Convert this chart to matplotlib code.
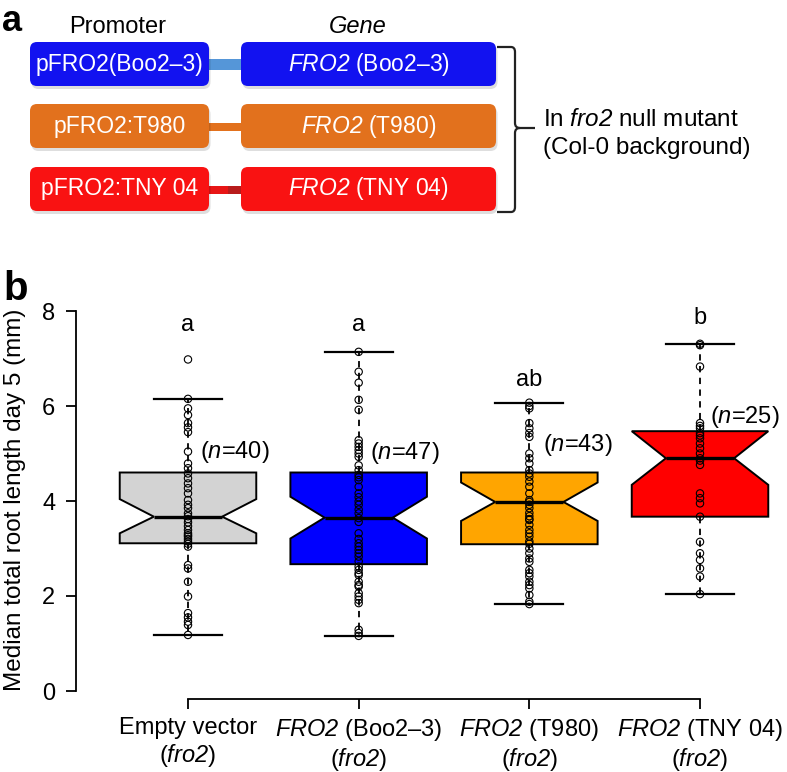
import numpy as np
import matplotlib
matplotlib.use("Agg")
import matplotlib.pyplot as plt
from matplotlib.patches import FancyBboxPatch
from matplotlib.path import Path
from matplotlib.patches import PathPatch

plt.rcParams['font.family'] = ['Liberation Sans', 'DejaVu Sans']
# math mode is used only for italic fragments (gene / variable names)
plt.rcParams['mathtext.fontset'] = 'custom'
plt.rcParams['mathtext.rm'] = 'Liberation Sans:italic'
plt.rcParams['mathtext.it'] = 'Liberation Sans:italic'
plt.rcParams['mathtext.default'] = 'it'

# ---------------- data ----------------
groups = ["Empty vector\n($fro2$)",
          "$FRO2$ (Boo2–3)\n($fro2$)",
          "$FRO2$ (T980)\n($fro2$)",
          "$FRO2$ (TNY 04)\n($fro2$)"]
box_colors = ["#d3d3d3", "#0000ff", "#ffa500", "#ff0000"]

med = [3.67, 3.65, 3.98, 4.90]
q1 = [3.11, 2.67, 3.09, 3.67]
q3 = [4.60, 4.60, 4.60, 5.47]
whislo = [1.18, 1.16, 1.83, 2.04]
whishi = [6.15, 7.14, 6.07, 7.31]
notch_lo = [3.32, 3.21, 3.58, 4.34]
notch_hi = [4.04, 4.09, 4.39, 5.47]

pts_empty = [6.98, 6.15, 5.95, 5.81, 5.64, 5.55, 5.45, 5.04, 4.79, 4.69,
             4.58, 4.48, 4.37, 4.27, 4.16, 4.02, 3.92, 3.85, 3.74, 3.68,
             3.62, 3.55, 3.47, 3.39, 3.32, 3.28, 3.25, 3.20, 3.15, 3.10,
             3.04, 2.65, 2.58, 2.30, 1.99, 1.64, 1.55, 1.46, 1.39, 1.18]
pts_boo = [7.14, 6.72, 6.49, 6.13, 5.92, 5.28, 5.21, 5.14, 5.07, 5.00,
           4.93, 4.75, 4.65, 4.55, 4.50, 4.44, 4.30, 4.16, 4.08, 3.99,
           3.92, 3.82, 3.74, 3.64, 3.56, 3.32, 3.20, 3.11, 3.04, 2.97,
           2.90, 2.83, 2.73, 2.62, 2.55, 2.48, 2.44, 2.30, 2.23, 2.20,
           2.06, 1.99, 1.92, 1.85, 1.29, 1.22, 1.16]
pts_t980 = [6.07, 6.00, 5.95, 5.64, 5.53, 5.43, 5.35, 5.00, 4.90, 4.79,
            4.65, 4.58, 4.51, 4.41, 4.30, 4.16, 4.02, 3.98, 3.92, 3.85,
            3.75, 3.68, 3.62, 3.60, 3.50, 3.39, 3.32, 3.25, 3.15, 3.10,
            3.00, 2.90, 2.79, 2.72, 2.55, 2.48, 2.41, 2.30, 2.23, 2.16,
            2.02, 1.88, 1.83]
pts_tny = [7.31, 7.28, 6.83, 5.64, 5.58, 5.53, 5.43, 5.38, 5.32, 5.21,
           5.11, 5.00, 4.90, 4.85, 4.76, 4.16, 4.06, 3.95, 3.67, 3.14,
           2.90, 2.76, 2.58, 2.41, 2.04]
points = [pts_empty, pts_boo, pts_t980, pts_tny]

sig_letters = ["a", "a", "ab", "b"]
y_ticks = [0, 2, 4, 6, 8]

promoters = ["pFRO2(Boo2–3)", "pFRO2:T980", "pFRO2:TNY 04"]
genes = ["$FRO2$ (Boo2–3)", "$FRO2$ (T980)", "$FRO2$ (TNY 04)"]
construct_colors = ["#1212f0", "#e2711d", "#f91212"]
link_colors = ["#5596d8", "#e2711d", "#e81515"]

# ---------------- figure ----------------
W, H = 787, 772
fig = plt.figure(figsize=(W / 100, H / 100), dpi=100)

# panel a (pixel-coordinate overlay)
axa = fig.add_axes([0, 0, 1, 1])
axa.set_xlim(0, W)
axa.set_ylim(H, 0)
axa.axis('off')

axa.text(2, 31, "a", fontsize=26, fontweight='bold', ha='left', va='baseline')
axa.text(118, 33, "Promoter", fontsize=17, ha='center', va='baseline')
axa.text(358, 33, "Gene", fontsize=17, style='italic', ha='center', va='baseline')

row_top = [42, 104, 167]
row_h = 44
link_w = [11, 8, 8]
for i in range(3):
    yt = row_top[i]
    yc = yt + row_h / 2
    ly = yc + 1 if i else yc
    axa.plot([205, 245], [ly, ly], color=link_colors[i], lw=link_w[i] * 0.72,
             solid_capstyle='butt', zorder=1)
    if i == 2:
        axa.plot([228, 245], [ly, ly], color="#b81c1c",
                 lw=link_w[i] * 0.72, solid_capstyle='butt', zorder=1)
    for (x0, x1) in [(30, 209), (241, 496)]:
        shadow = FancyBboxPatch((x0 + 1.5, yt + 3), x1 - x0, row_h,
                                boxstyle="round,pad=0,rounding_size=7",
                                fc="black", ec="none", alpha=0.13, zorder=2)
        axa.add_patch(shadow)
        box = FancyBboxPatch((x0, yt), x1 - x0, row_h,
                             boxstyle="round,pad=0,rounding_size=7",
                             fc=construct_colors[i], ec="none", zorder=3)
        axa.add_patch(box)
    axa.text(119.5, yc, promoters[i], color='white', fontsize=16.5,
             ha='center', va='center', zorder=4)
    axa.text(368.5, yc, genes[i], color='white', fontsize=16.5,
             ha='center', va='center', zorder=4)

# curly bracket
verts = [(497, 47), (511, 47), (515, 47), (515, 52), (515, 123), (515, 128),
         (520, 128), (535, 128), (520, 128), (515, 128), (515, 133),
         (515, 207), (515, 212), (511, 212), (497, 212)]
codes = [Path.MOVETO, Path.LINETO, Path.CURVE3, Path.CURVE3, Path.LINETO,
         Path.CURVE3, Path.CURVE3, Path.LINETO, Path.MOVETO, Path.CURVE3,
         Path.CURVE3, Path.LINETO, Path.CURVE3, Path.CURVE3, Path.LINETO]
axa.add_patch(PathPatch(Path(verts, codes), fc='none', ec='#222222', lw=1.6))
axa.text(543, 126, "In $fro2$ null mutant", fontsize=17.5,
         ha='left', va='baseline')
axa.text(543, 154, "(Col-0 background)", fontsize=17.5, ha='left', va='baseline')

axa.text(3, 300, "b", fontsize=29, fontweight='bold', ha='left', va='baseline')

# panel b
left_px, right_px, bot_px, top_px = 76, 787, 699, 296
ax = fig.add_axes([left_px / W, 1 - bot_px / H,
                   (right_px - left_px) / W, (bot_px - top_px) / H])
ax.set_facecolor('none')

stats = []
for i in range(4):
    stats.append(dict(med=med[i], q1=q1[i], q3=q3[i], whislo=whislo[i],
                      whishi=whishi[i], cilo=notch_lo[i], cihi=notch_hi[i],
                      fliers=[]))
positions = np.arange(1, 5)
bp = ax.bxp(stats, positions=positions, widths=0.8, shownotches=True,
            patch_artist=True, showfliers=False, capwidths=0.4,
            boxprops=dict(edgecolor='black', linewidth=1.4),
            medianprops=dict(color='black', linewidth=2.4),
            whiskerprops=dict(color='black', linewidth=1.3, linestyle=(0, (3.5, 3))),
            capprops=dict(color='black', linewidth=1.6))
for patch, c in zip(bp['boxes'], box_colors):
    patch.set_facecolor(c)
for i, vals in enumerate(points):
    ax.scatter(np.full(len(vals), positions[i]), vals, s=28,
               facecolors='none', edgecolors='black', linewidths=0.8, zorder=5)

# significance letters
sig_y = [7.58, 7.58, 6.42, 7.73]
for i in range(4):
    ax.text(positions[i], sig_y[i], sig_letters[i], fontsize=17,
            ha='center', va='baseline')
# n labels
n_x = [1.07, 2.067, 3.08, 4.06]
n_y = [5.04, 5.0, 5.18, 5.77]
for i in range(4):
    ax.text(n_x[i], n_y[i], "($n$=%d)" % len(points[i]),
            fontsize=17, ha='left', va='center')

ax.set_xlim(1 - (188 - 76) / 170.67, 1 + (787 - 188) / 170.67)
ax.set_ylim((691 - 699) / 47.5, (691 - 296) / 47.5)
ax.set_yticks(y_ticks)
ax.set_yticklabels([str(t) for t in y_ticks], fontsize=17)
ax.set_xticks(positions)
ax.set_xticklabels(groups, fontsize=17, linespacing=1.15)
for s in ['top', 'right']:
    ax.spines[s].set_visible(False)
ax.spines['left'].set_bounds(0, 8)
ax.spines['bottom'].set_bounds(1, 4)
for s in ['left', 'bottom']:
    ax.spines[s].set_linewidth(1.3)
ax.tick_params(axis='y', length=7, width=1.3, pad=8)
ax.tick_params(axis='x', length=7, width=1.3, pad=6)

fig.text(15 / W, 1 - 500 / H, "Median total root length day 5 (mm)",
         rotation=90, fontsize=17.5, ha='center', va='center')

fig.savefig("out.png", dpi=100)
